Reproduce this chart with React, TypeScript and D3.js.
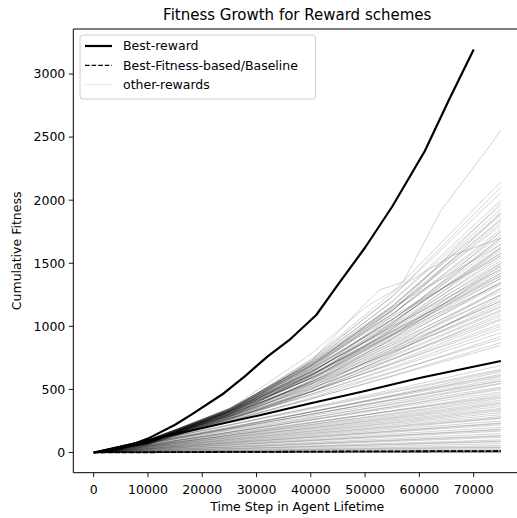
import React from "react";
import * as d3 from "d3";

// Sample positions (time steps) shared by the "other-rewards" runs
const rewardSteps = [0, 10000, 25000, 40000, 55000, 75000];

// Cumulative fitness of the other reward schemes that outgrow the baseline
const upperRewards: number[][] = [
  [0, 70, 332, 737, 1267, 2146],
  [0, 68, 324, 721, 1239, 2100],
  [0, 74, 337, 731, 1235, 2060],
  [0, 72, 327, 709, 1199, 2000],
  [0, 78, 338, 717, 1193, 1960],
  [0, 69, 316, 685, 1157, 1930],
  [0, 76, 328, 695, 1157, 1900],
  [0, 83, 343, 710, 1163, 1880],
  [0, 74, 319, 677, 1126, 1850],
  [0, 81, 332, 687, 1125, 1820],
  [0, 88, 346, 701, 1130, 1800],
  [0, 78, 323, 669, 1095, 1770],
  [0, 85, 337, 682, 1099, 1750],
  [0, 93, 350, 692, 1097, 1720],
  [0, 75, 310, 642, 1051, 1700],
  [0, 82, 323, 654, 1055, 1680],
  [0, 89, 336, 664, 1052, 1650],
  [0, 79, 314, 635, 1024, 1630],
  [0, 95, 344, 664, 1036, 1600],
  [0, 85, 322, 635, 1008, 1580],
  [0, 76, 300, 608, 980, 1560],
  [0, 92, 331, 639, 997, 1540],
  [0, 82, 309, 611, 969, 1520],
  [0, 99, 340, 642, 987, 1500],
  [0, 88, 318, 614, 959, 1480],
  [0, 79, 297, 587, 931, 1460],
  [0, 95, 327, 616, 947, 1440],
  [0, 84, 305, 589, 920, 1420],
  [0, 102, 336, 618, 935, 1400],
  [0, 91, 313, 591, 908, 1380],
  [0, 80, 290, 560, 874, 1350],
  [0, 97, 319, 587, 889, 1330],
  [0, 86, 295, 556, 855, 1300],
  [0, 103, 324, 583, 868, 1280],
  [0, 91, 300, 552, 835, 1250],
  [0, 80, 277, 522, 803, 1220],
  [0, 97, 304, 547, 814, 1200],
  [0, 86, 283, 521, 788, 1180],
  [0, 102, 308, 541, 793, 1150],
  [0, 90, 284, 510, 760, 1120],
  [0, 80, 264, 486, 735, 1100],
  [0, 96, 289, 508, 744, 1080],
  [0, 85, 266, 479, 712, 1050],
  [0, 91, 273, 480, 703, 1020],
  [0, 99, 283, 485, 700, 1000],
  [0, 87, 262, 461, 676, 980],
  [0, 94, 269, 461, 665, 950],
  [0, 82, 246, 433, 634, 920],
  [0, 98, 269, 451, 640, 900],
  [0, 86, 246, 422, 609, 870],
  [0, 93, 254, 426, 604, 850],
  [0, 100, 330, 640, 1000, 1450],
  [0, 60, 280, 620, 1080, 1900],
  [0, 95, 350, 700, 1150, 1650],
  [0, 70, 290, 600, 1020, 1750],
  [0, 85, 300, 590, 940, 1380],
  [0, 65, 270, 570, 980, 1620],
  [0, 90, 320, 650, 1060, 1580],
  [0, 100, 345, 680, 1080, 1560],
  [0, 75, 280, 560, 900, 1350],
  [0, 88, 290, 540, 830, 1200],
  [0, 92, 310, 600, 960, 1420],
  [0, 68, 260, 540, 900, 1480],
  [0, 80, 300, 610, 1010, 1700],
  [0, 95, 300, 560, 850, 1250],
  [0, 85, 270, 500, 770, 1130],
  [0, 72, 250, 500, 820, 1300],
  [0, 98, 320, 610, 930, 1340],
  [0, 78, 285, 570, 930, 1500],
  [0, 90, 310, 630, 1030, 1620],
  [0, 84, 330, 690, 1140, 1840],
  [0, 66, 300, 660, 1120, 1980],
  [0, 100, 330, 620, 960, 1400],
  [0, 80, 260, 480, 740, 1060],
  [0, 94, 290, 530, 800, 1160],
  [0, 70, 240, 480, 780, 1240],
];

// Cumulative fitness of the other reward schemes below the baseline
const lowerRewards: number[][] = [
  [0, 83, 218, 357, 498, 690],
  [0, 88, 220, 352, 484, 660],
  [0, 70, 191, 321, 455, 640],
  [0, 75, 196, 320, 448, 620],
  [0, 80, 200, 320, 440, 600],
  [0, 70, 185, 302, 422, 585],
  [0, 76, 190, 304, 418, 570],
  [0, 75, 188, 301, 414, 565],
  [0, 59, 163, 273, 387, 545],
  [0, 69, 173, 277, 381, 520],
  [0, 60, 158, 258, 361, 500],
  [0, 64, 160, 256, 352, 480],
  [0, 51, 139, 233, 331, 465],
  [0, 60, 150, 240, 330, 450],
  [0, 52, 136, 222, 310, 430],
  [0, 55, 138, 221, 304, 415],
  [0, 53, 133, 213, 293, 400],
  [0, 46, 120, 196, 274, 380],
  [0, 49, 122, 195, 268, 365],
  [0, 47, 117, 187, 257, 350],
  [0, 40, 104, 171, 238, 330],
  [0, 42, 105, 168, 231, 315],
  [0, 40, 100, 160, 220, 300],
  [0, 38, 95, 152, 209, 285],
  [0, 33, 85, 140, 195, 270],
  [0, 33, 83, 133, 183, 250],
  [0, 31, 78, 125, 172, 235],
  [0, 29, 73, 117, 161, 220],
  [0, 27, 67, 107, 147, 200],
  [0, 25, 62, 99, 136, 185],
  [0, 23, 57, 91, 125, 170],
  [0, 20, 50, 80, 110, 150],
  [0, 18, 45, 72, 99, 135],
  [0, 16, 40, 64, 88, 120],
  [0, 13, 33, 53, 73, 100],
  [0, 11, 28, 45, 62, 85],
  [0, 9, 23, 37, 51, 70],
  [0, 7, 18, 29, 40, 55],
  [0, 5, 13, 21, 29, 40],
  [0, 4, 10, 16, 22, 30],
  [0, 3, 7, 11, 15, 20],
  [0, 2, 5, 8, 11, 15],
  [0, 1, 3, 5, 7, 10],
  [0, 1, 2, 3, 4, 5],
  [0, 0, 1, 1, 2, 2],
  [0, 0, 0, 0, 0, 0],
  [0, 85, 215, 345, 475, 650],
  [0, 78, 200, 325, 450, 610],
  [0, 72, 180, 290, 400, 550],
  [0, 62, 160, 262, 365, 510],
  [0, 58, 148, 236, 326, 440],
  [0, 50, 128, 205, 283, 390],
  [0, 44, 112, 180, 248, 340],
  [0, 37, 92, 148, 203, 275],
  [0, 30, 76, 122, 168, 230],
  [0, 24, 60, 96, 132, 180],
  [0, 17, 43, 69, 95, 130],
  [0, 12, 30, 48, 66, 90],
  [0, 6, 15, 24, 33, 45],
  [0, 3, 6, 9, 13, 18],
  [0, 1, 3, 4, 6, 8],
  [0, 1, 1, 2, 3, 4],
];

// Irregular runs that break away from the fan, as [step, fitness]
const breakawayRewards: [number, number][][] = [
  [[0, 0], [10000, 70], [25000, 300], [40000, 720], [50000, 1180], [52700, 1290], [57000, 1350], [64000, 1921], [72400, 2397], [75000, 2556]],
  [[0, 0], [10000, 85], [25000, 345], [40000, 780], [50000, 1150], [56400, 1313], [66000, 1560], [75000, 1700]],
];

// Best reward scheme
const bestSteps = [0, 5000, 10000, 15000, 18000, 24000, 28000, 32000, 36000, 41000, 45000, 50000, 55000, 61000, 65500, 70000];
const bestFitness = [0, 30, 110, 220, 300, 470, 610, 760, 890, 1090, 1330, 1625, 1950, 2390, 2800, 3195];

// Fitness-based baseline runs
const baselineSteps = [0, 10000, 20000, 30000, 40000, 50000, 60000, 75000];
const baselineFitness = [0, 95, 195, 290, 390, 487, 590, 726];
const baselineLowFitness = [0, 2, 4, 5, 7, 9, 10, 12];

const xTicks = [0, 10000, 20000, 30000, 40000, 50000, 60000, 70000];
const yTicks = [0, 500, 1000, 1500, 2000, 2500, 3000];

const legendItems = ["Best-reward", "Best-Fitness-based/Baseline", "other-rewards"];

const W = 517;
const H = 518;
const FONT = "DejaVu Sans, sans-serif";

export default function App() {
  const x = d3.scaleLinear().domain([-3750, 78750]).range([73.3, 521.2]);
  const y = d3.scaleLinear().domain([-160, 3357]).range([472.7, 29]);
  const line = d3
    .line<[number, number]>()
    .x((d) => x(d[0]))
    .y((d) => y(d[1]));

  const gridRuns: [number, number][][] = [...upperRewards, ...lowerRewards].map((row) =>
    row.map((v, i) => [rewardSteps[i], v] as [number, number])
  );
  const grayRuns = [...gridRuns, ...breakawayRewards];

  const best = bestSteps.map((s, i) => [s, bestFitness[i]] as [number, number]);
  const base = baselineSteps.map((s, i) => [s, baselineFitness[i]] as [number, number]);
  const baseLow = baselineSteps.map((s, i) => [s, baselineLowFitness[i]] as [number, number]);

  const [left, right] = x.range();
  const [bottom, top] = y.range();
  const cx = (left + right) / 2;
  const cy = (top + bottom) / 2;

  const legendRows = [46, 65.3, 84.6];

  return (
    <div style={{ position: "fixed", left: 0, top: 0 }}>
      <svg width={W} height={H} style={{ display: "block", background: "#fff" }} fontFamily={FONT}>
        <rect width={W} height={H} fill="#fff" />
        <g fill="none">
          {grayRuns.map((r, i) => (
            <path key={i} d={line(r) || ""} stroke="#000" strokeOpacity={0.17} strokeWidth={1} />
          ))}
          <path d={line(baseLow) || ""} stroke="#000" strokeWidth={1.8} strokeDasharray="5.5,1.5" />
          <path d={line(base) || ""} stroke="#000" strokeWidth={2} />
          <path d={line(best) || ""} stroke="#000" strokeWidth={2.2} strokeLinejoin="round" />
        </g>

        {/* spines */}
        <g stroke="#000" strokeWidth={1} fill="none">
          <line x1={left} x2={left} y1={top} y2={bottom} />
          <line x1={left} x2={right} y1={bottom} y2={bottom} />
          <line x1={left} x2={right} y1={top} y2={top} />
          <line x1={right} x2={right} y1={top} y2={bottom} />
        </g>

        {/* x axis */}
        <g fontSize={12.5} fill="#000">
          {xTicks.map((t) => (
            <g key={t} transform={`translate(${x(t)},${bottom})`}>
              <line y2={4.5} stroke="#000" strokeWidth={0.9} />
              <text y={16.5} dy="0.35em" textAnchor="middle">{t}</text>
            </g>
          ))}
          <text x={cx} y={507} dy="0.35em" textAnchor="middle">Time Step in Agent Lifetime</text>
        </g>

        {/* y axis */}
        <g fontSize={12.5} fill="#000">
          {yTicks.map((t) => (
            <g key={t} transform={`translate(${left},${y(t)})`}>
              <line x2={-4.5} stroke="#000" strokeWidth={0.9} />
              <text x={-8} dy="0.35em" textAnchor="end">{t}</text>
            </g>
          ))}
          <text transform={`translate(17,${cy}) rotate(-90)`} dy="0.35em" textAnchor="middle">Cumulative Fitness</text>
        </g>

        <text x={cx} y={14.5} dy="0.35em" textAnchor="middle" fontSize={15} fill="#000">
          Fitness Growth for Reward schemes
        </text>

        {/* legend */}
        <g>
          <rect x={80} y={35} width={235.5} height={64} rx={3} fill="#fff" fillOpacity={0.8} stroke="#ccc" strokeWidth={1} />
          {legendItems.map((label, i) => (
            <g key={label} transform={`translate(0,${legendRows[i]})`}>
              {i === 0 && <line x1={85} x2={112} stroke="#000" strokeWidth={2.2} />}
              {i === 1 && <line x1={85} x2={112} stroke="#000" strokeWidth={1.2} strokeDasharray="4.6,2" />}
              {i === 2 && <line x1={85} x2={112} stroke="#000" strokeOpacity={0.12} strokeWidth={0.9} />}
              <text x={123} dy="0.35em" fontSize={12.5} fill="#000">{label}</text>
            </g>
          ))}
        </g>
      </svg>
    </div>
  );
}
